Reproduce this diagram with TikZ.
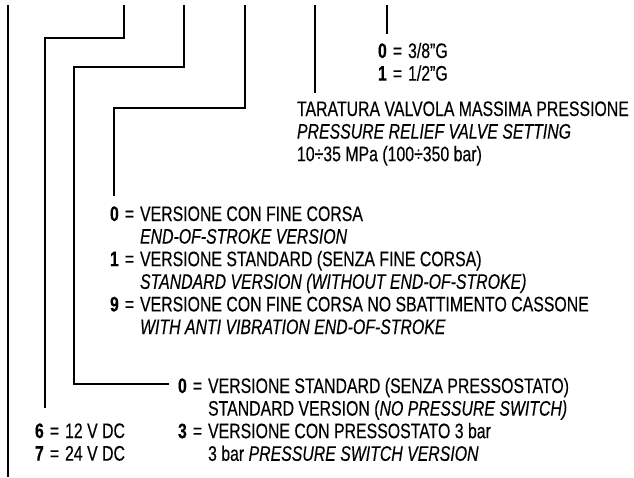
\documentclass[tikz,border=0pt]{standalone}
\usepackage{fontspec}
\setmainfont{Liberation Sans}[FakeStretch=0.755, FakeBold=0.3]
\usetikzlibrary{calc}

% code digit followed by the equals sign
\newcommand{\cd}[1]{\textbf{#1}\hspace{6pt}=\hspace{6pt}}

\begin{document}
\begin{tikzpicture}[
    x=1pt, y=-1pt,
    wire/.style={draw, line width=2.2pt},
    blk/.style={anchor=base west, inner sep=0pt, outer sep=0pt,
        font=\fontsize{21}{22.6}\selectfont}
]
    \useasboundingbox (0,0) rectangle (634,477);

    % code blocks
    \node[blk] (port) at (378,58) {\begin{tabular}[t]{@{}l@{}l@{}}
        \cd{0} & 3/8''G\\
        \cd{1} & 1/2''G
    \end{tabular}};
    \node[blk] (valve) at (297,116) {\begin{tabular}[t]{@{}l@{}}
        TARATURA VALVOLA MASSIMA PRESSIONE\\
        \textit{PRESSURE RELIEF VALVE SETTING}\\
        10÷35 MPa (100÷350 bar)
    \end{tabular}};
    \node[blk] (stroke) at (110,221) {\begin{tabular}[t]{@{}l@{}l@{}}
        \cd{0} & VERSIONE CON FINE CORSA\\
        & \textit{END-OF-STROKE VERSION}\\
        \cd{1} & VERSIONE STANDARD (SENZA FINE CORSA)\\
        & \textit{STANDARD VERSION (WITHOUT END-OF-STROKE)}\\
        \cd{9} & VERSIONE CON FINE CORSA NO SBATTIMENTO CASSONE\\
        & \textit{WITH ANTI VIBRATION END-OF-STROKE}
    \end{tabular}};
    \node[blk] (switch) at (178,393) {\begin{tabular}[t]{@{}l@{}l@{}}
        \cd{0} & VERSIONE STANDARD (SENZA PRESSOSTATO)\\
        & STANDARD VERSION (\textit{NO PRESSURE SWITCH)}\\
        \cd{3} & VERSIONE CON PRESSOSTATO 3 bar\\
        & 3 bar \textit{PRESSURE SWITCH VERSION}
    \end{tabular}};
    \node[blk] (volt) at (35,438) {\begin{tabular}[t]{@{}l@{}l@{}}
        \cd{6} & 12 V DC\\
        \cd{7} & 24 V DC
    \end{tabular}};

    % leader lines
    \coordinate (top1) at (8,5);
    \coordinate (bot1) at (8,477);
    \coordinate (top2) at (124,5);
    \coordinate (bend2) at (45,38);
    \coordinate (top3) at (184,5);
    \coordinate (bend3) at (74,67);
    \coordinate (top4) at (245,5);
    \coordinate (bend4) at (114,108);
    \coordinate (top5) at (315,5);
    \coordinate (top6) at (387,5);

    \draw[wire] (top1) -- (bot1);
    \draw[wire] (top2) |- (bend2) -- ($(bend2 |- volt.north)+(0,-14)$);
    \draw[wire] (top3) |- (bend3) |- ($(switch.base west)+(-9,-9)$);
    \draw[wire] (top4) |- (bend4) -- ($(bend4 |- stroke.north)+(0,-9)$);
    \draw[wire] (top5) -- ($(top5 |- valve.north)+(0,-7)$);
    \draw[wire] (top6) -- ($(top6 |- port.north)+(0,-8)$);
\end{tikzpicture}
\end{document}
